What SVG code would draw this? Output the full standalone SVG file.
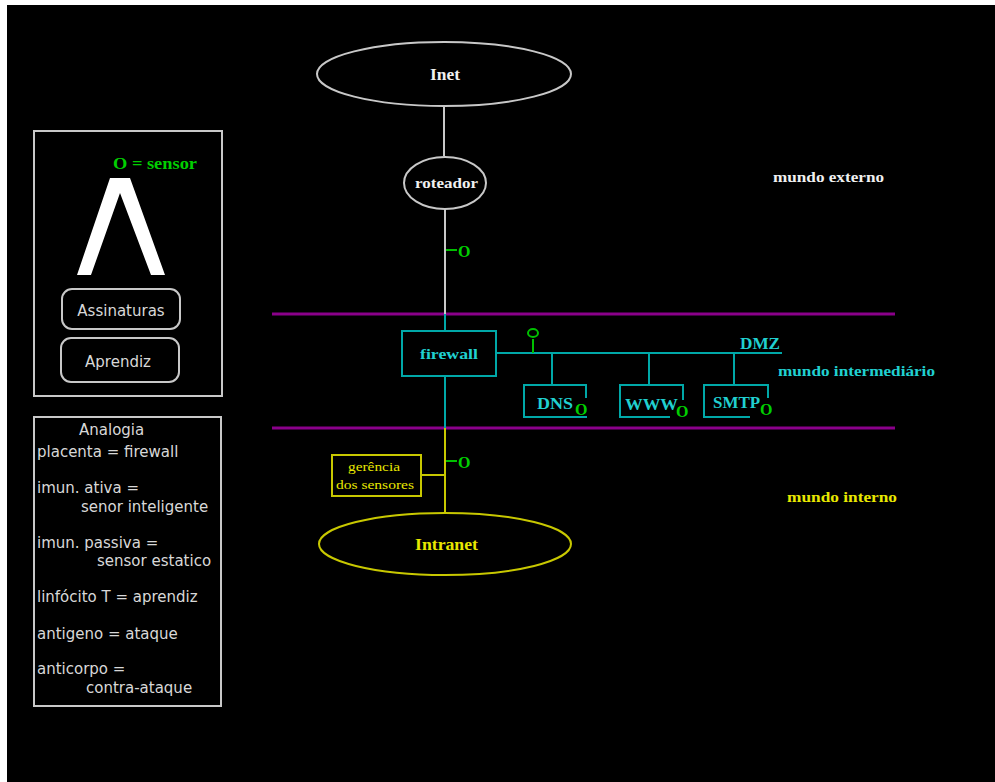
<svg xmlns="http://www.w3.org/2000/svg" width="995" height="782" viewBox="0 0 995 782">
<style>
.serif{font-family:"Liberation Serif","Times New Roman",serif;font-weight:bold}
.sans{font-family:"DejaVu Sans","Liberation Sans",sans-serif;font-size:15px;fill:#d8d8d8}
.wl{stroke:#c8c8c8;stroke-width:2;fill:none}
.cl{stroke:#00a8a8;stroke-width:2;fill:none}
.yl{stroke:#c8c800;stroke-width:2;fill:none}
.gl{stroke:#00c000;stroke-width:2;fill:none}
.pl{stroke:#8a008a;stroke-width:3;fill:none}
.gt{fill:#00d000;font-family:"Liberation Serif",serif;font-weight:bold;font-size:16px}
.ct{fill:#20d0d0}
.yt{fill:#e8e800}
.wt{fill:#f0f0f0}
</style>
<rect x="0" y="0" width="995" height="782" fill="#ffffff"/>
<rect x="7" y="5" width="988" height="777" fill="#000000"/>

<g id="zones">
<line class="pl" x1="272" y1="314" x2="895" y2="314"/>
<line class="pl" x1="272" y1="428" x2="895" y2="428"/>
<text class="serif wt" x="773" y="182" font-size="15" textLength="111" lengthAdjust="spacingAndGlyphs">mundo externo</text>
<text class="serif ct" x="778" y="376" font-size="15" textLength="157" lengthAdjust="spacingAndGlyphs">mundo intermediário</text>
<text class="serif yt" x="787" y="502" font-size="15" textLength="110" lengthAdjust="spacingAndGlyphs">mundo interno</text>
</g>

<g id="connectors">
<line class="wl" x1="444" y1="106" x2="444" y2="156"/>
<line class="wl" x1="445" y1="209" x2="445" y2="314"/>
<line class="cl" x1="445" y1="314" x2="445" y2="331"/>
<line class="cl" x1="445" y1="376" x2="445" y2="428"/>
<line class="yl" x1="445" y1="428" x2="445" y2="513"/>
<line class="cl" x1="496" y1="353" x2="782" y2="353"/>
<line class="cl" x1="552" y1="353" x2="552" y2="385"/>
<line class="cl" x1="649" y1="353" x2="649" y2="385"/>
<line class="cl" x1="734" y1="353" x2="734" y2="385"/>
<line class="yl" x1="421" y1="475" x2="445" y2="475"/>
</g>

<g id="sensors">
<line class="gl" x1="446" y1="250" x2="457" y2="250"/>
<text class="gt" x="458" y="257">O</text>
<line class="gl" x1="446" y1="461" x2="457" y2="461"/>
<text class="gt" x="458" y="468">O</text>
<line class="gl" x1="533" y1="339" x2="533" y2="353"/>
<ellipse class="gl" cx="533" cy="333" rx="5" ry="4"/>
<text class="gt" x="575" y="415">O</text>
<text class="gt" x="676" y="417">O</text>
<text class="gt" x="760" y="415">O</text>
</g>

<g id="inet">
<ellipse cx="444" cy="74" rx="127" ry="32" fill="#000" stroke="#c8c8c8" stroke-width="2"/>
<text class="serif wt" x="430" y="80" font-size="16" textLength="30" lengthAdjust="spacingAndGlyphs">Inet</text>
</g>

<g id="roteador">
<ellipse cx="445" cy="183" rx="41" ry="26" fill="#000" stroke="#c8c8c8" stroke-width="2"/>
<text class="serif wt" x="415" y="188" font-size="15" textLength="63" lengthAdjust="spacingAndGlyphs">roteador</text>
</g>

<g id="firewall">
<rect x="402" y="331" width="94" height="45" class="cl"/>
<text class="serif ct" x="420" y="359" font-size="15" textLength="58" lengthAdjust="spacingAndGlyphs">firewall</text>
</g>

<g id="dmz">
<text class="serif ct" x="740" y="349" font-size="16" textLength="40" lengthAdjust="spacingAndGlyphs">DMZ</text>
</g>

<g id="dns">
<path class="cl" d="M586 398 V385 H524 V417 H587"/>
<text class="serif ct" x="537" y="409" font-size="16" textLength="36" lengthAdjust="spacingAndGlyphs">DNS</text>
</g>

<g id="www">
<path class="cl" d="M683 400 V385 H620 V417 H670"/>
<text class="serif ct" x="625" y="410" font-size="16" textLength="53" lengthAdjust="spacingAndGlyphs">WWW</text>
</g>

<g id="smtp">
<path class="cl" d="M768 398 V385 H704 V417 H750"/>
<text class="serif ct" x="713" y="408" font-size="16" textLength="47" lengthAdjust="spacingAndGlyphs">SMTP</text>
</g>

<g id="gerencia">
<rect x="332" y="455" width="89" height="41" class="yl"/>
<text class="yt" font-family="Liberation Serif, serif" font-size="12" x="348" y="471" textLength="52" lengthAdjust="spacingAndGlyphs">gerência</text>
<text class="yt" font-family="Liberation Serif, serif" font-size="12" x="336" y="489" textLength="78" lengthAdjust="spacingAndGlyphs">dos sensores</text>
</g>

<g id="intranet">
<ellipse cx="445" cy="544" rx="126" ry="31" fill="#000" stroke="#c8c800" stroke-width="2"/>
<text class="serif yt" x="415" y="550" font-size="16" textLength="63" lengthAdjust="spacingAndGlyphs">Intranet</text>
</g>

<g id="legend">
<rect x="34" y="131" width="188" height="265" fill="none" stroke="#c8c8c8" stroke-width="2"/>
<text class="gt" x="113" y="169" font-size="15" textLength="84" lengthAdjust="spacingAndGlyphs">O = sensor</text>
<polygon points="77,275 110,178 130,178 165,275 151,275 120,193 91,275" fill="#ffffff"/>
<rect x="62" y="289" width="118" height="40" rx="10" fill="none" stroke="#c8c8c8" stroke-width="2"/>
<text class="sans" x="121" y="316" text-anchor="middle">Assinaturas</text>
<rect x="61" y="338" width="118" height="44" rx="10" fill="none" stroke="#c8c8c8" stroke-width="2"/>
<text class="sans" x="118" y="367" text-anchor="middle">Aprendiz</text>
</g>

<g id="analogia">
<rect x="34" y="417" width="187" height="289" fill="none" stroke="#c8c8c8" stroke-width="2"/>
<text class="sans" x="79" y="435">Analogia</text>
<text class="sans" x="37" y="457">placenta = firewall</text>
<text class="sans" x="37" y="493">imun. ativa =</text>
<text class="sans" x="81" y="512">senor inteligente</text>
<text class="sans" x="37" y="548">imun. passiva =</text>
<text class="sans" x="97" y="566">sensor estatico</text>
<text class="sans" x="37" y="602">linfócito T = aprendiz</text>
<text class="sans" x="37" y="639">antigeno = ataque</text>
<text class="sans" x="37" y="674">anticorpo =</text>
<text class="sans" x="86" y="693">contra-ataque</text>
</g>
</svg>
